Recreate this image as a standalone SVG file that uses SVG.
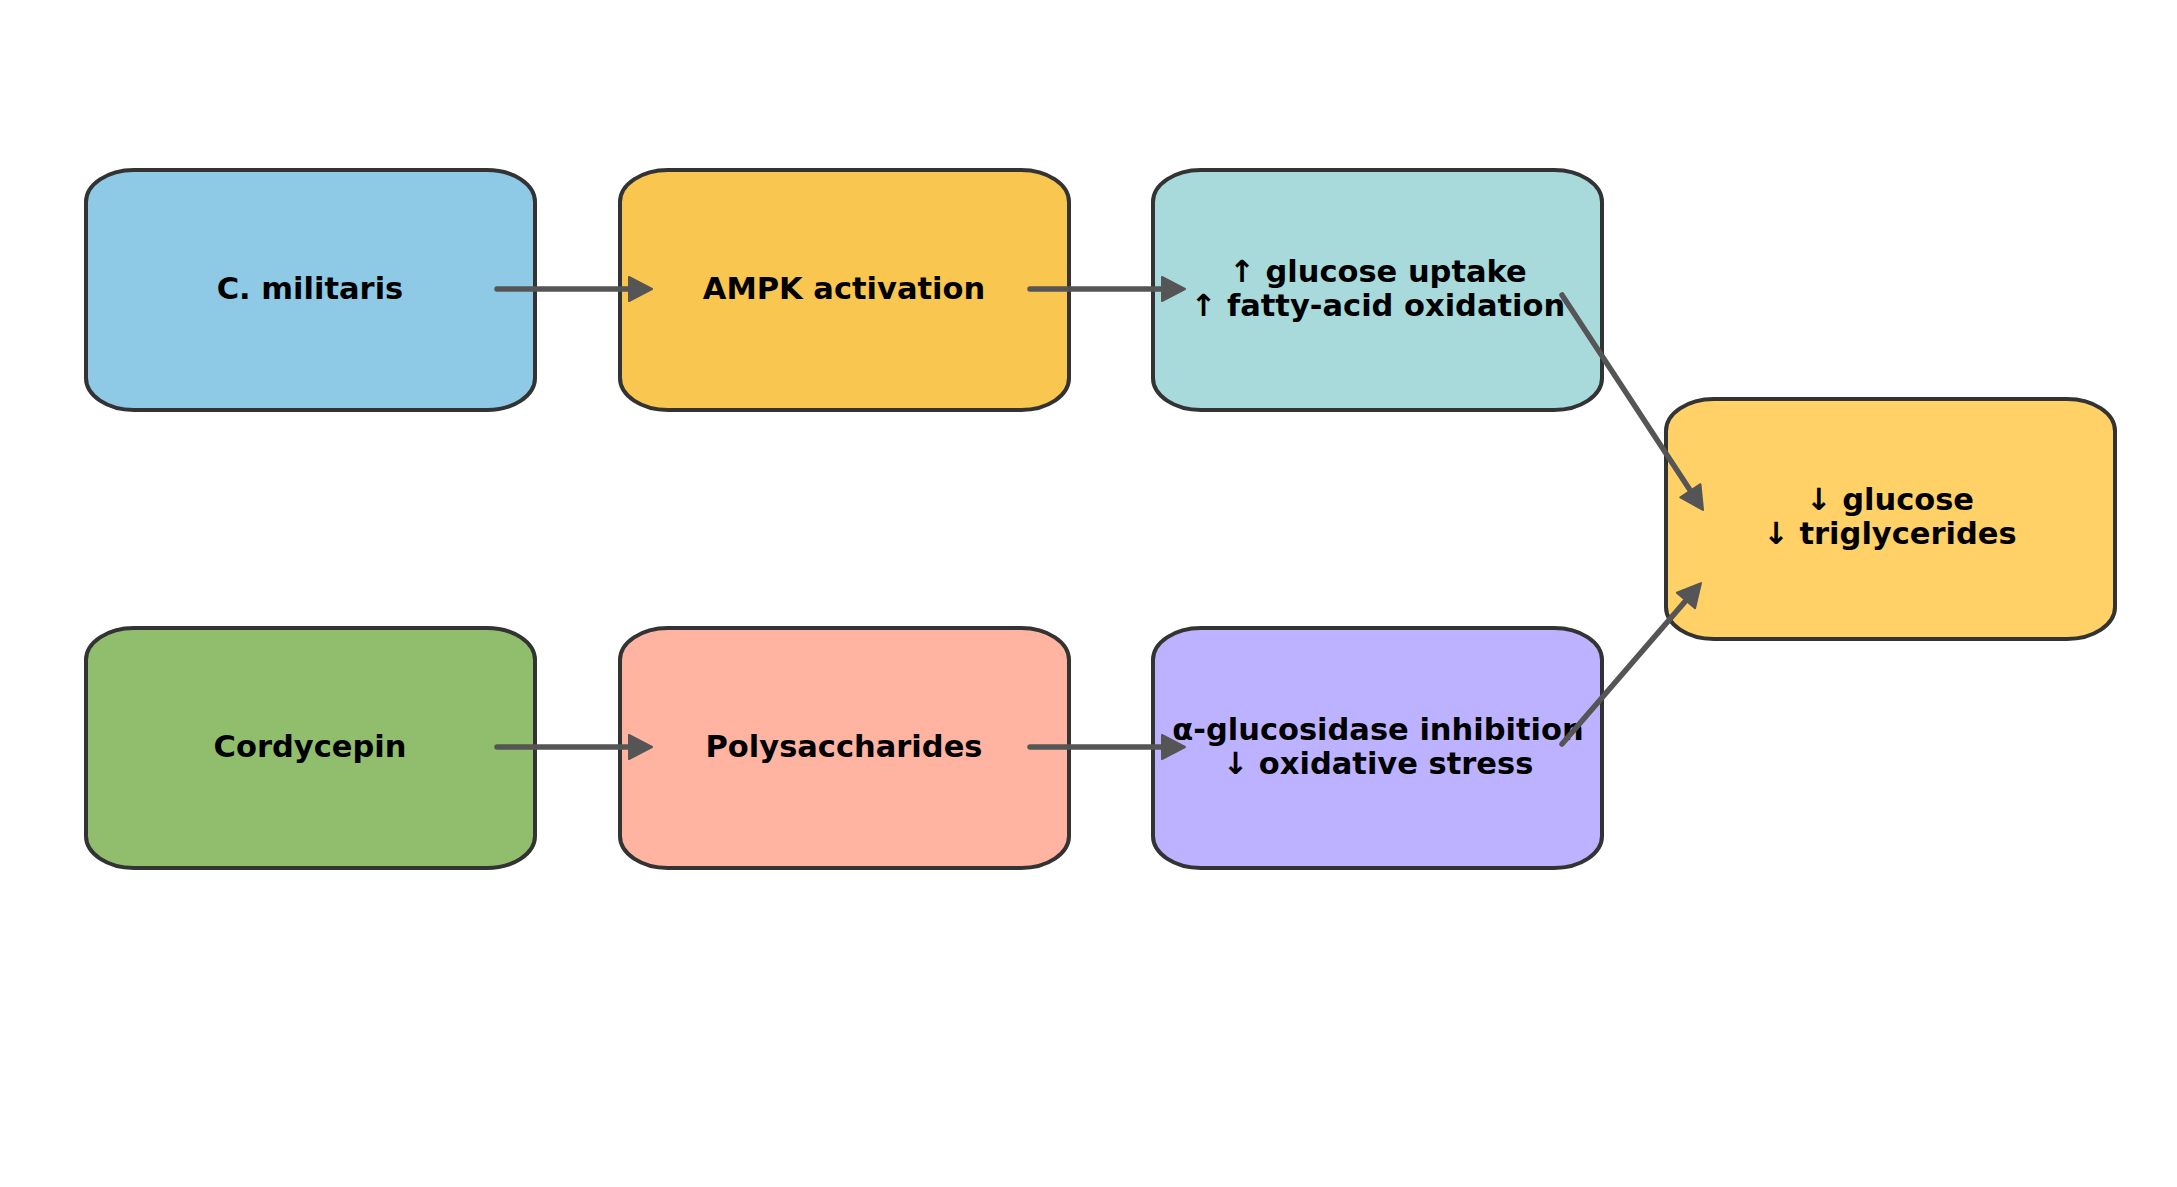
<svg xmlns="http://www.w3.org/2000/svg" width="2177" height="1187" viewBox="0 0 2177 1187">
<style>
.box{stroke:#333333;stroke-width:4}
.lbl{font-family:"DejaVu Sans",sans-serif;font-weight:bold;font-size:30.5px;fill:#000;text-anchor:middle}
.edge{stroke:#555555;stroke-width:5.5;fill:none;stroke-linecap:round}
</style>
<defs>
<marker id="ah" markerUnits="userSpaceOnUse" markerWidth="28" markerHeight="28" viewBox="-2 -2 28 28" refX="12" refY="12" orient="auto">
<path d="M0,0 L23,12 L0,24 Z" fill="#555555" stroke="#555555" stroke-width="2" stroke-linejoin="round"/>
</marker>
</defs>
<rect width="2177" height="1187" fill="#ffffff"/>
<g id="n1"><rect class="box" x="86" y="170" width="449" height="240" rx="48" ry="32" fill="#8ECAE6"/><text class="lbl" x="310" y="299">C. militaris</text></g>
<g id="n2"><rect class="box" x="620" y="170" width="449" height="240" rx="48" ry="32" fill="#F9C74F"/><text class="lbl" x="844" y="299">AMPK activation</text></g>
<g id="n3"><rect class="box" x="1153" y="170" width="449" height="240" rx="48" ry="32" fill="#A8DADC"/><text class="lbl" x="1378" y="282">↑ glucose uptake</text><text class="lbl" x="1378" y="316">↑ fatty-acid oxidation</text></g>
<g id="n4"><rect class="box" x="86" y="628" width="449" height="240" rx="48" ry="32" fill="#90BE6D"/><text class="lbl" x="310" y="757">Cordycepin</text></g>
<g id="n5"><rect class="box" x="620" y="628" width="449" height="240" rx="48" ry="32" fill="#FFB4A2"/><text class="lbl" x="844" y="757">Polysaccharides</text></g>
<g id="n6"><rect class="box" x="1153" y="628" width="449" height="240" rx="48" ry="32" fill="#BDB2FF"/><text class="lbl" x="1378" y="740">α-glucosidase inhibition</text><text class="lbl" x="1378" y="774">↓ oxidative stress</text></g>
<g id="n7"><rect class="box" x="1666" y="399" width="449" height="240" rx="48" ry="32" fill="#FFD166"/><text class="lbl" x="1890" y="510">↓ glucose</text><text class="lbl" x="1890" y="544">↓ triglycerides</text></g>
<g id="edges">
<line class="edge" x1="497" y1="289" x2="641" y2="289" marker-end="url(#ah)"/>
<line class="edge" x1="1030" y1="289" x2="1174" y2="289" marker-end="url(#ah)"/>
<line class="edge" x1="497" y1="747" x2="641" y2="747" marker-end="url(#ah)"/>
<line class="edge" x1="1030" y1="747" x2="1174" y2="747" marker-end="url(#ah)"/>
<line class="edge" x1="1562" y1="295" x2="1697" y2="500.8" marker-end="url(#ah)"/>
<line class="edge" x1="1562" y1="744" x2="1693.8" y2="591.4" marker-end="url(#ah)"/>
</g>
</svg>
